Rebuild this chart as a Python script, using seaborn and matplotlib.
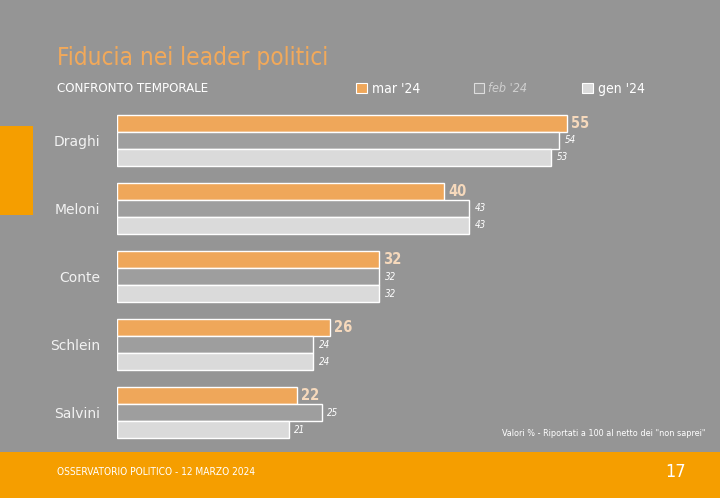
import matplotlib
matplotlib.use("Agg")
import matplotlib.pyplot as plt
import matplotlib.patches as mpatches
import seaborn as sns
import pandas as pd

leaders = ["Draghi", "Meloni", "Conte", "Schlein", "Salvini"]
periods = ["mar '24", "feb '24", "gen '24"]
mar_24 = [55, 40, 32, 26, 22]
feb_24 = [54, 43, 32, 24, 25]
gen_24 = [53, 43, 32, 24, 21]

df = pd.DataFrame({
    "leader": leaders * 3,
    "period": [periods[0]] * 5 + [periods[1]] * 5 + [periods[2]] * 5,
    "value": mar_24 + feb_24 + gen_24,
})

BG = "#959595"
ORANGE = "#EFA75A"
FEB = "#9E9E9E"
GEN = "#DADADA"
FOOT = "#F59E00"

sns.set_theme(style="white")
plt.rcParams["font.family"] = ["DejaVu Sans"]
COND = dict(family="DejaVu Sans", stretch="condensed")

fig = plt.figure(figsize=(7.2, 4.98), dpi=100, facecolor=BG)
W, H = 720, 498
ax = fig.add_axes([117 / W, 1 - 447 / H, (690 - 117) / W, (447 - 106) / H])
ax.set_facecolor(BG)

sns.barplot(data=df, y="leader", x="value", hue="period", order=leaders,
            hue_order=periods, palette=[ORANGE, FEB, GEN], orient="h",
            width=0.75, saturation=1, edgecolor="white", linewidth=1.0,
            ax=ax, legend=False)

ax.set_xlim(0, 70)
ax.set_ylim(4.5, -0.5)
ax.set_xlabel("")
ax.set_ylabel("")
ax.set_xticks([])
for s in ax.spines.values():
    s.set_visible(False)
ax.tick_params(axis="y", length=0, pad=12, labelsize=10, labelcolor="#F2F2F2")

for i, cont in enumerate(ax.containers):
    if i == 0:
        ax.bar_label(cont, padding=3, fontsize=10.5, color="#F6D9BC",
                     fontweight="bold", **COND)
    else:
        ax.bar_label(cont, padding=4, fontsize=7, color="white",
                     fontstyle="italic", **COND)

# Title and subtitle
fig.text(57 / W, 1 - 58 / H, "Fiducia nei leader politici", color="#F2A95A",
         fontsize=17.5, va="center", ha="left", **COND)
fig.text(57 / W, 1 - 89 / H, "CONFRONTO TEMPORALE", color="white",
         fontsize=9.5, va="center", ha="left", **COND)

# Legend (one entry per anchor to match the reference spacing)
entries = [
    (periods[0], ORANGE, "white", 356, "white", "normal", 10),
    (periods[1], FEB, "#DDDDDD", 474, "#CFCFCF", "italic", 9),
    (periods[2], GEN, "white", 582, "white", "normal", 10),
]
for lab, fc, ec, x0, tc, st, fs in entries:
    h = mpatches.Patch(facecolor=fc, edgecolor=ec, linewidth=0.8)
    leg = fig.legend([h], [lab], loc="center left",
                     bbox_to_anchor=(x0 / W, 1 - 89 / H), frameon=False,
                     handlelength=0.8, handleheight=0.8, handletextpad=0.35,
                     borderpad=0, borderaxespad=0,
                     prop={"size": fs, "style": st, **COND})
    leg.get_texts()[0].set_color(tc)

# Note
fig.text(706 / W, 1 - 433 / H, "Valori % - Riportati a 100 al netto dei \"non saprei\"",
         color="white", fontsize=6.5, ha="right", va="center", **COND)

# Left orange block
fig.patches.append(mpatches.Rectangle((0, 1 - 215 / H), 33 / W, 89 / H,
                                      transform=fig.transFigure, facecolor=FOOT,
                                      edgecolor="none", zorder=0))
# Footer
fig.patches.append(mpatches.Rectangle((0, 0), 1, 46 / H,
                                      transform=fig.transFigure, facecolor=FOOT,
                                      edgecolor="none", zorder=0))
fig.text(57 / W, 1 - 472 / H, "OSSERVATORIO POLITICO - 12 MARZO 2024",
         color="white", fontsize=7.3, ha="left", va="center", **COND)
fig.text(686 / W, 1 - 472 / H, "17", color="white", fontsize=13,
         ha="right", va="center", **COND)

fig.savefig("out.png", dpi=100, facecolor=BG)
